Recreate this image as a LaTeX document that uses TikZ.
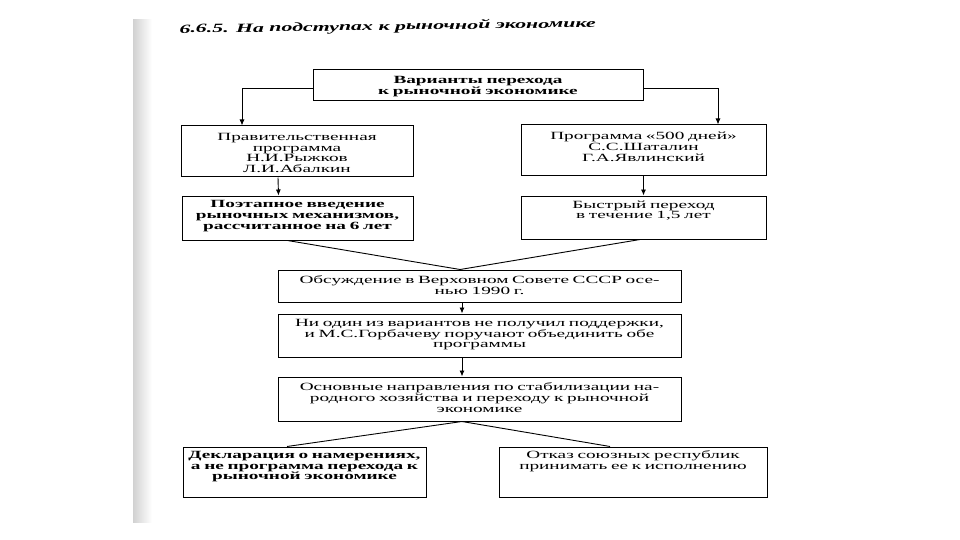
\documentclass[tikz,border=0pt]{standalone}
\usepackage{fontspec}
\setmainfont{Liberation Serif}[FakeStretch=1.75]
\usetikzlibrary{arrows.meta}
\newcommand{\cell}[2]{\parbox[c][#1][t]{\linewidth}{\centering #2}}

\begin{document}
\begin{tikzpicture}[x=1pt,y=-1pt,
  box/.style={draw,line width=1pt,inner sep=0pt,align=center,font=\fontsize{11}{10.8}\selectfont},
  headbox/.style={box,font=\fontsize{11}{10.8}\selectfont\bfseries},
  arr/.style={-{Latex[length=6pt,width=5pt]},line width=0.9pt}]
\fill[white] (0,0) rectangle (960,540);
\useasboundingbox (0,0) rectangle (960,540);
\shade[left color=black!18,right color=white] (133,20) rectangle (152,522);
\node[font=\fontsize{12.5}{14}\selectfont\bfseries\itshape,rotate=0.8,anchor=west] (title) at (176,30) {6.6.5. На подступах к рыночной экономике};
\node[headbox,minimum width=330pt,minimum height=31pt,text width=322pt] (var) at (478,85.5) {\cell{19pt}{Варианты перехода\\к рыночной экономике}};
\node[box,minimum width=232pt,minimum height=51pt,text width=224pt] (gov) at (297,151.5) {\cell{37pt}{Правительственная\\программа\\Н.И.Рыжков\\Л.И.Абалкин}};
\node[box,minimum width=245pt,minimum height=51pt,text width=237pt] (plan) at (643.5,150.5) {\cell{37pt}{Программа «500 дней»\\С.С.Шаталин\\Г.А.Явлинский}};
\node[headbox,minimum width=231pt,minimum height=44pt,text width=223pt] (stage) at (297.5,218) {\cell{35pt}{Поэтапное введение\\рыночных механизмов,\\рассчитанное на 6 лет}};
\node[box,minimum width=245pt,minimum height=43pt,text width=237pt] (fast) at (643.5,217.5) {\cell{34pt}{Быстрый переход\\в течение 1,5 лет}};
\node[box,minimum width=403pt,minimum height=32pt,text width=395pt] (debate) at (479.5,286) {\cell{20pt}{Обсуждение в Верховном Совете СССР осе-\\нью 1990 г.}};
\node[box,minimum width=403pt,minimum height=43pt,text width=395pt] (merge) at (479.5,335.5) {\cell{33pt}{Ни один из вариантов не получил поддержки,\\и М.С.Горбачеву поручают объединить обе\\программы}};
\node[box,minimum width=403pt,minimum height=44pt,text width=395pt] (basic) at (479.5,399) {\cell{32pt}{Основные направления по стабилизации на-\\родного хозяйства и переходу к рыночной\\экономике}};
\node[headbox,minimum width=243pt,minimum height=50pt,text width=235pt] (decl) at (304.5,472) {\cell{42pt}{Декларация о намерениях,\\а не программа перехода к\\рыночной экономике}};
\node[box,minimum width=268pt,minimum height=50pt,text width=260pt] (refuse) at (633,472) {\cell{42pt}{Отказ союзных республик\\принимать ее к исполнению}};
\draw[arr] ([yshift=-3pt]var.west) -| ([xshift=-55pt]gov.north);
\draw[arr] ([yshift=-3pt]var.east) -| ([xshift=74.5pt]plan.north);
\draw[arr] ([xshift=-19pt]gov.south) -- ([xshift=-19pt]stage.north);
\draw[arr] (plan) -- (fast);
\draw[line width=0.9pt] ([xshift=-10pt]stage.south) -- ([xshift=-19.5pt]debate.north) -- ([xshift=-3.5pt]fast.south);
\draw[arr] ([xshift=-17.5pt]debate.south) -- ([xshift=-17.5pt]merge.north);
\draw[arr] ([xshift=-17.5pt]merge.south) -- ([xshift=-17.5pt]basic.north);
\draw[line width=0.9pt] ([xshift=-17.5pt]decl.north) -- ([xshift=-17.5pt]basic.south) -- ([xshift=-23pt]refuse.north);
\end{tikzpicture}
\end{document}
